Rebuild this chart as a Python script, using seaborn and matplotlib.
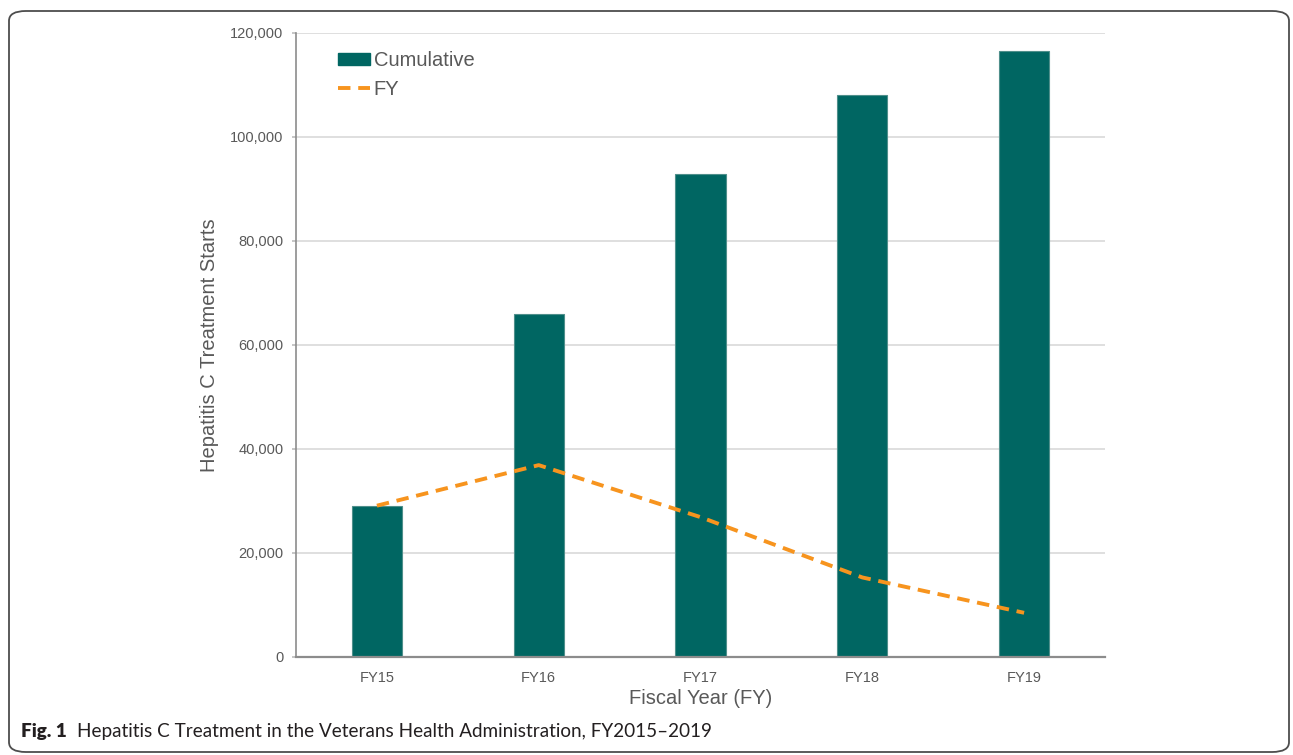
import numpy as np
import pandas as pd
import matplotlib
matplotlib.use("Agg")
import matplotlib.pyplot as plt
from matplotlib.patches import FancyBboxPatch, Patch
from matplotlib.lines import Line2D
from matplotlib.ticker import FuncFormatter, FixedLocator
import seaborn as sns

# Hepatitis C treatment starts in the VHA
years = ["FY15", "FY16", "FY17", "FY18", "FY19"]
cumulative = [29100, 66000, 92800, 108000, 116500]
per_year = [29100, 36900, 26900, 15300, 8500]

df = pd.DataFrame({"year": years, "cumulative": cumulative, "fy": per_year})

sns.set_theme(style="white")
plt.rcParams["font.family"] = ["Liberation Sans", "DejaVu Sans"]

TEAL = "#006662"
ORANGE = "#F7941E"
TXT = "#595959"
W, H = 1293, 755

fig = plt.figure(figsize=(W / 100, H / 100), dpi=100)
ax = fig.add_axes([296 / W, 1 - 657 / H, (1105 - 296) / W, (657 - 33) / H])

sns.barplot(data=df, x="year", y="cumulative", color=TEAL, saturation=1,
            width=0.31, edgecolor="#4f8f8b", linewidth=0.8, ax=ax, zorder=2)
sns.lineplot(x=np.arange(len(years)), y=df["fy"], color=ORANGE, linewidth=2.8,
             ax=ax, zorder=3)
ax.lines[-1].set_dashes([3.2, 2.0])

ax.set_xlim(-0.5, len(years) - 0.5)
ax.set_ylim(0, 120000)
ax.yaxis.set_major_locator(FixedLocator(np.arange(0, 120001, 20000)))
ax.yaxis.set_major_formatter(FuncFormatter(lambda v, p: f"{int(v):,}"))
ax.grid(axis="y", color="#d9d9d9", linewidth=1.2, zorder=0)
ax.set_axisbelow(True)

for s in ["top", "right"]:
    ax.spines[s].set_visible(False)
ax.spines["left"].set_color("#8c8c8c")
ax.spines["left"].set_linewidth(1.2)
ax.spines["bottom"].set_color("#8c8c8c")
ax.spines["bottom"].set_linewidth(1.6)

ax.tick_params(axis="y", labelsize=10.5, labelcolor=TXT, left=True, length=3,
               color="#bfbfbf", pad=6)
ax.tick_params(axis="x", labelsize=10.5, labelcolor=TXT, bottom=False, pad=4)

ax.set_xlabel("Fiscal Year (FY)", fontsize=14.5, color=TXT, labelpad=3)
ax.set_ylabel("Hepatitis C Treatment Starts", fontsize=14.5, color=TXT, labelpad=8)

handles = [
    Patch(facecolor=TEAL, edgecolor=TEAL, label="Cumulative"),
    Line2D([0], [0], color=ORANGE, linewidth=2.8, dashes=[3.2, 2.0], label="FY"),
]
ax.legend(handles=handles, loc="upper left", bbox_to_anchor=(0.03, 1.0),
          frameon=False, fontsize=14.5, handlelength=1.55, handleheight=0.6,
          handletextpad=0.2, labelspacing=0.5, labelcolor=TXT)

# framed panel with caption
fig.patches.append(FancyBboxPatch((9 / W, 1 - 752 / H), (1289 - 9) / W, (752 - 11) / H,
                                  boxstyle="round,pad=0,rounding_size=0.013",
                                  transform=fig.transFigure, fill=False,
                                  edgecolor="#4d4d4d", linewidth=1.3))
cap_font = ["Lato", "DejaVu Sans"]
cap_y = 1 - 732 / H
t2 = fig.text(77 / W, cap_y,
              "Hepatitis C Treatment in the Veterans Health Administration, FY2015\u20132019",
              fontsize=12.5, family=cap_font, color="#231f20", va="center")
# fit caption body to its span, then size the bold label to match
fig.canvas.draw()
w2 = t2.get_window_extent().width
cap_size = 12.5 * (713 - 77) / w2
t2.set_fontsize(cap_size)
t1 = fig.text(67 / W, cap_y, "Fig. 1", fontsize=cap_size, fontweight="heavy",
              family=cap_font, color="#231f20", va="center", ha="right")

fig.savefig("out.png", dpi=100)
